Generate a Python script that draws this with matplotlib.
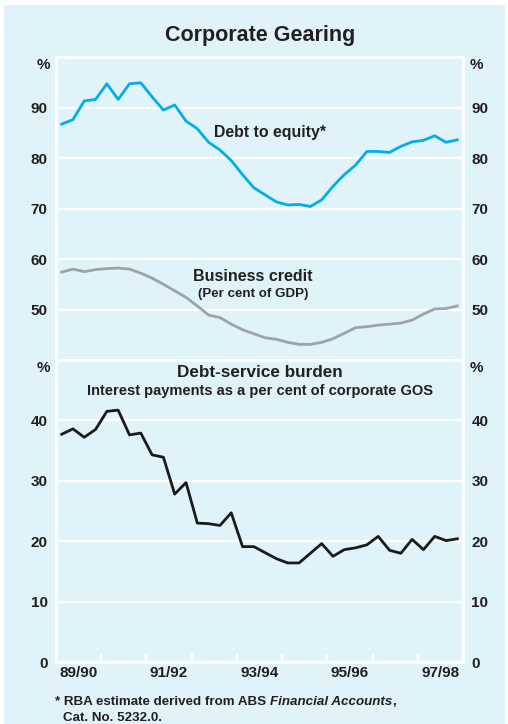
import matplotlib
matplotlib.use('Agg')
import matplotlib.pyplot as plt
from matplotlib.patches import Rectangle
import numpy as np

plt.rcParams['font.family'] = ['Liberation Sans', 'DejaVu Sans']
plt.rcParams['font.weight'] = 'bold'

# quarterly data, 89/90 to 97/98
debt_to_equity = [86.7, 87.6, 91.3, 91.6, 94.7, 91.6, 94.7, 94.9, 92.1, 89.5,
                  90.5, 87.3, 85.8, 83.1, 81.6, 79.5, 76.7, 74.1, 72.7, 71.3,
                  70.7, 70.8, 70.4, 71.7, 74.4, 76.7, 78.6, 81.3, 81.3, 81.1,
                  82.3, 83.2, 83.5, 84.4, 83.1, 83.6]
business_credit = [57.4, 58.0, 57.5, 57.9, 58.1, 58.2, 58.0, 57.2, 56.2, 55.0,
                   53.7, 52.4, 50.7, 48.9, 48.4, 47.1, 46.0, 45.2, 44.4, 44.1,
                   43.5, 43.1, 43.1, 43.5, 44.2, 45.3, 46.4, 46.6, 46.9, 47.1,
                   47.3, 47.9, 49.1, 50.1, 50.2, 50.7]
debt_service = [37.7, 38.6, 37.2, 38.5, 41.5, 41.7, 37.6, 37.9, 34.3, 33.9,
                27.8, 29.7, 23.0, 22.9, 22.6, 24.7, 19.1, 19.1, 18.1, 17.1,
                16.4, 16.4, 18.0, 19.6, 17.5, 18.6, 18.9, 19.4, 20.8, 18.5,
                18.0, 20.3, 18.6, 20.8, 20.1, 20.4]
year_labels = ['89/90', '91/92', '93/94', '95/96', '97/98']

BG = '#e0f3fa'
TXT = '#231f20'
W, H = 508, 724
TICK_FS = 11

fig = plt.figure(figsize=(W / 100, H / 100), dpi=100, facecolor='white')
fig.patches.append(Rectangle((4 / W, 0), 501 / W, (H - 5) / H, transform=fig.transFigure,
                             facecolor=BG, edgecolor='none', zorder=-10))

left, right = 56 / W, 463 / W
ax1 = fig.add_axes([left, 1 - 360 / H, right - left, (360 - 57) / H])
ax2 = fig.add_axes([left, 1 - 662 / H, right - left, (662 - 360) / H])

x = np.arange(len(debt_to_equity)) + 0.5

ax1.plot(x, debt_to_equity, color='#00aeef', lw=2.0)
ax1.plot(x, business_credit, color='#9da3a6', lw=2.0)
ax2.plot(x, debt_service, color='#1a1a1a', lw=2.0)


def style(ax, lo, hi, ticks):
    ax.set_facecolor(BG)
    ax.set_xlim(0, 36)
    ax.set_ylim(lo, hi)
    ax.set_yticks(ticks)
    ax.grid(axis='y', color='white', lw=1.6)
    ax.set_axisbelow(True)
    for s in ax.spines.values():
        s.set_color('white')
        s.set_linewidth(2)
    ax.tick_params(axis='y', length=0, labelleft=True, labelright=True,
                   labelsize=TICK_FS, labelcolor=TXT, pad=6)
    for lab in ax.get_yticklabels():
        lab.set_fontweight('bold')
    ax.text(-0.015, 0.973, '%', transform=ax.transAxes, ha='right', va='center',
            fontsize=TICK_FS, color=TXT)
    ax.text(1.017, 0.973, '%', transform=ax.transAxes, ha='left', va='center',
            fontsize=TICK_FS, color=TXT)


style(ax1, 40, 100, [50, 60, 70, 80, 90])
style(ax2, 0, 50, [0, 10, 20, 30, 40])

ax1.set_xticks([])
ax2.set_xticks(np.arange(0, 37, 4))
ax2.set_xticklabels([])
ax2.set_xticks(np.arange(2, 36, 8), minor=True)
ax2.set_xticklabels(year_labels, minor=True)
ax2.tick_params(axis='x', which='major', direction='in', length=6, width=1.6, color='white')
ax2.tick_params(axis='x', which='minor', length=0, labelsize=TICK_FS, labelcolor=TXT, pad=3)
for lab in ax2.get_xticklabels(minor=True):
    lab.set_fontweight('bold')

# series labels
fig.text(270 / W, 1 - 132.7 / H, 'Debt to equity*', ha='center', va='center',
         fontsize=11.4, color=TXT)
fig.text(253 / W, 1 - 276.7 / H, 'Business credit', ha='center', va='center',
         fontsize=11.5, color=TXT)
fig.text(253 / W, 1 - 294 / H, '(Per cent of GDP)', ha='center', va='center',
         fontsize=9.6, color=TXT)
fig.text(260 / W, 1 - 372.7 / H, 'Debt-service burden', ha='center', va='center',
         fontsize=12.3, color=TXT)
fig.text(260 / W, 1 - 390.7 / H, 'Interest payments as a per cent of corporate GOS',
         ha='center', va='center', fontsize=10.5, color=TXT)

fig.text(260 / W, 1 - 35 / H, 'Corporate Gearing', ha='center', va='center',
         fontsize=15.5, color=TXT)

# footnote
FN = 9.6
t1 = fig.text(55 / W, 1 - 702 / H, '* RBA estimate derived from ABS ', ha='left',
              va='center', fontsize=FN, color=TXT)
a2 = fig.add_artist(plt.Annotation('Financial Accounts', xy=(1, 0), xycoords=t1, va='bottom',
                                   ha='left', fontsize=FN, color=TXT, style='italic',
                                   fontweight='bold'))
fig.add_artist(plt.Annotation(',', xy=(1, 0), xycoords=a2, va='bottom', ha='left',
                              fontsize=FN, color=TXT, fontweight='bold'))
fig.text(63 / W, 1 - 718 / H, 'Cat. No. 5232.0.', ha='left', va='center',
         fontsize=FN, color=TXT)

fig.savefig('out.png', dpi=100, facecolor='white')
